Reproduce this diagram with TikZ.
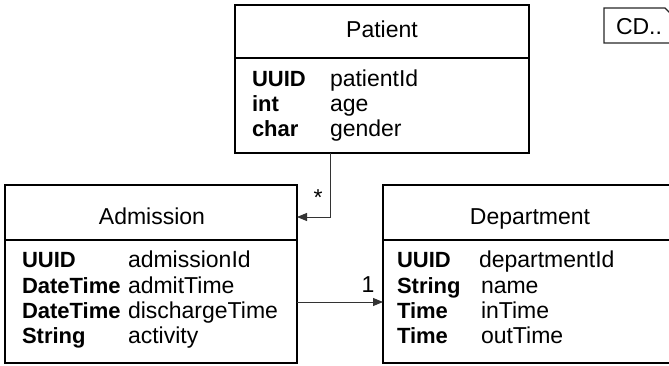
\documentclass[tikz,border=0pt]{standalone}
\usepackage{fontspec}
\setmainfont{Liberation Sans}
\usetikzlibrary{arrows.meta}
\begin{document}
\begin{tikzpicture}[x=1pt,y=-1pt,
  every node/.style={font=\fontsize{23}{27}\selectfont, inner sep=0pt, outer sep=0pt},
  classbox/.style={draw=black, line width=1.6pt, rectangle, minimum height=178pt, minimum width=292pt},
  divider/.style={draw=black, line width=1.6pt},
  typ/.style={anchor=base west, font=\fontsize{22}{26}\selectfont\bfseries},
  fld/.style={anchor=base west},
  title/.style={anchor=base},
  conn/.style={draw=black!80, line width=0.9pt, -{Triangle[length=10pt,width=8pt]}},
  mult/.style={anchor=base},
  notebox/.style={draw=black!85, line width=1.1pt}
]
\useasboundingbox (0,0) rectangle (669,366);
\clip (0,0) rectangle (669,366);

% Patient class
\node[classbox, minimum width=294pt, minimum height=148pt] (patient) at (382,79) {};
\draw[divider] ([yshift=-53pt]patient.north west) -- ([yshift=-53pt]patient.north east);
\node[title] (patientT) at (382,38) {Patient};
\node[typ] (p1t) at (252,87) {UUID};
\node[fld] (p1n) at (330,87) {patientId};
\node[typ] (p2t) at (252,112) {int};
\node[fld] (p2n) at (330,112) {age};
\node[typ] (p3t) at (252,137) {char};
\node[fld] (p3n) at (330,137) {gender};

% Admission class
\node[classbox] (admission) at (151,274) {};
\draw[divider] ([yshift=-55pt]admission.north west) -- ([yshift=-55pt]admission.north east);
\node[title] (admissionT) at (152,225) {Admission};
\node[typ] (a1t) at (22,267) {UUID};
\node[fld] (a1n) at (128,267) {admissionId};
\node[typ] (a2t) at (22,293) {DateTime};
\node[fld] (a2n) at (128,293) {admitTime};
\node[typ] (a3t) at (22,318) {DateTime};
\node[fld] (a3n) at (128,318) {dischargeTime};
\node[typ] (a4t) at (22,343) {String};
\node[fld] (a4n) at (128,343) {activity};

% Department class
\node[classbox, minimum width=294pt] (department) at (530,274) {};
\draw[divider] ([yshift=-55pt]department.north west) -- ([yshift=-55pt]department.north east);
\node[title] (departmentT) at (530,225) {Department};
\node[typ] (d1t) at (397,267) {UUID};
\node[fld] (d1n) at (479,267) {departmentId};
\node[typ] (d2t) at (397,293) {String};
\node[fld] (d2n) at (481,293) {name};
\node[typ] (d3t) at (397,318) {Time};
\node[fld] (d3n) at (481,318) {inTime};
\node[typ] (d4t) at (397,343) {Time};
\node[fld] (d4n) at (481,343) {outTime};

% Note with folded corner
\draw[notebox] (604,8) -- (665,8) -- (677,20) -- (677,43) -- (604,43) -- cycle;
\node[fld] (note) at (616,35) {CD..};

% Associations
\coordinate (pa) at ([xshift=95pt]patient.south west);
\coordinate (ap) at ([yshift=-32pt]admission.north east);
\draw[conn] (pa) |- (ap);
\node[mult] (star) at (318,206) {*};

\coordinate (ad) at ([yshift=61pt]admission.south east);
\draw[conn] (ad) -- (ad -| department.west);
\node[mult] (one) at (368,292) {1};
\end{tikzpicture}
\end{document}
